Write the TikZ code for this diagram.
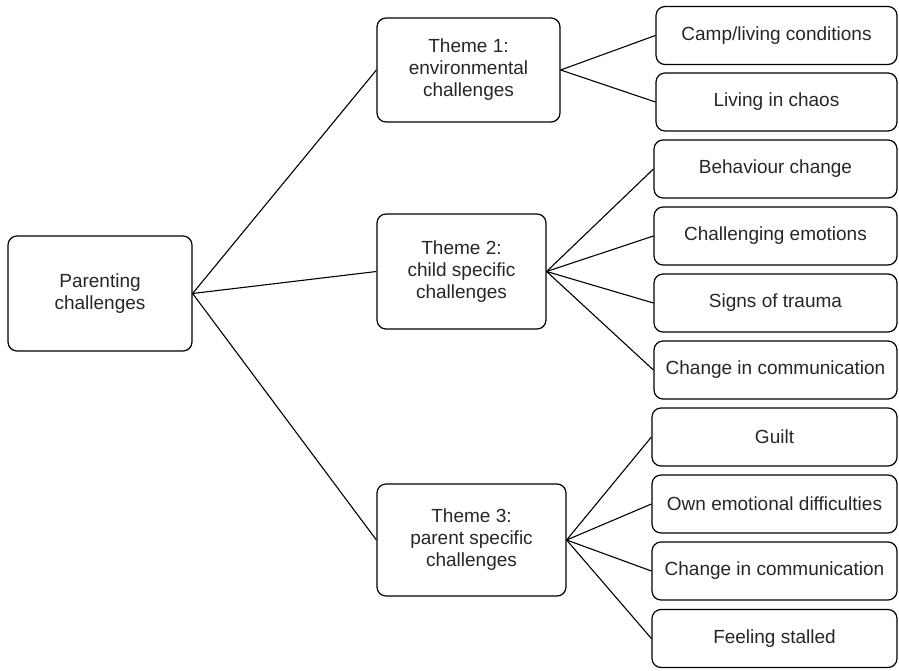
\documentclass[tikz,border=0pt]{standalone}
\usepackage{fontspec}
\setmainfont{Liberation Sans}
\begin{document}
\begin{tikzpicture}[x=1pt,y=-1pt,
  box/.style={draw, line width=1.2pt, rounded corners=9pt, inner sep=0pt, align=center,
    font=\fontsize{19}{22}\selectfont, text=black!85},
  link/.style={line width=1.1pt}]
\useasboundingbox (0,0) rectangle (899,671);
\node[box, minimum width=184pt, minimum height=115pt] (root) at (100,293.5) {Parenting\\challenges};
\node[box, minimum width=183pt, minimum height=104pt] (t1) at (468.5,70) {Theme 1:\\environmental\\challenges};
\node[box, minimum width=169pt, minimum height=115pt] (t2) at (461.5,271.5) {Theme 2:\\child specific\\challenges};
\node[box, minimum width=189pt, minimum height=112pt] (t3) at (471.5,540) {Theme 3:\\parent specific\\challenges};
\node[box, minimum width=241pt, minimum height=58pt] (l1) at (776.5,35.5) {Camp/living conditions};
\node[box, minimum width=241pt, minimum height=58pt] (l2) at (776.5,102) {Living in chaos};
\node[box, minimum width=243pt, minimum height=58pt] (l3) at (775.5,169) {Behaviour change};
\node[box, minimum width=243pt, minimum height=58pt] (l4) at (775.5,236) {Challenging emotions};
\node[box, minimum width=243pt, minimum height=58pt] (l5) at (775.5,303) {Signs of trauma};
\node[box, minimum width=243pt, minimum height=58pt] (l6) at (775.5,370) {Change in communication};
\node[box, minimum width=245pt, minimum height=58pt] (l7) at (774.5,437) {Guilt};
\node[box, minimum width=245pt, minimum height=58pt] (l8) at (774.5,504) {Own emotional difficulties};
\node[box, minimum width=245pt, minimum height=58pt] (l9) at (774.5,571) {Change in communication};
\node[box, minimum width=245pt, minimum height=58pt] (l10) at (774.5,638.5) {Feeling stalled};
\foreach \t in {t1,t2,t3} \draw[link] (root.east) -- (\t.west);
\foreach \l in {l1,l2} \draw[link] (t1.east) -- (\l.west);
\foreach \l in {l3,l4,l5,l6} \draw[link] (t2.east) -- (\l.west);
\foreach \l in {l7,l8,l9,l10} \draw[link] (t3.east) -- (\l.west);
\end{tikzpicture}
\end{document}
